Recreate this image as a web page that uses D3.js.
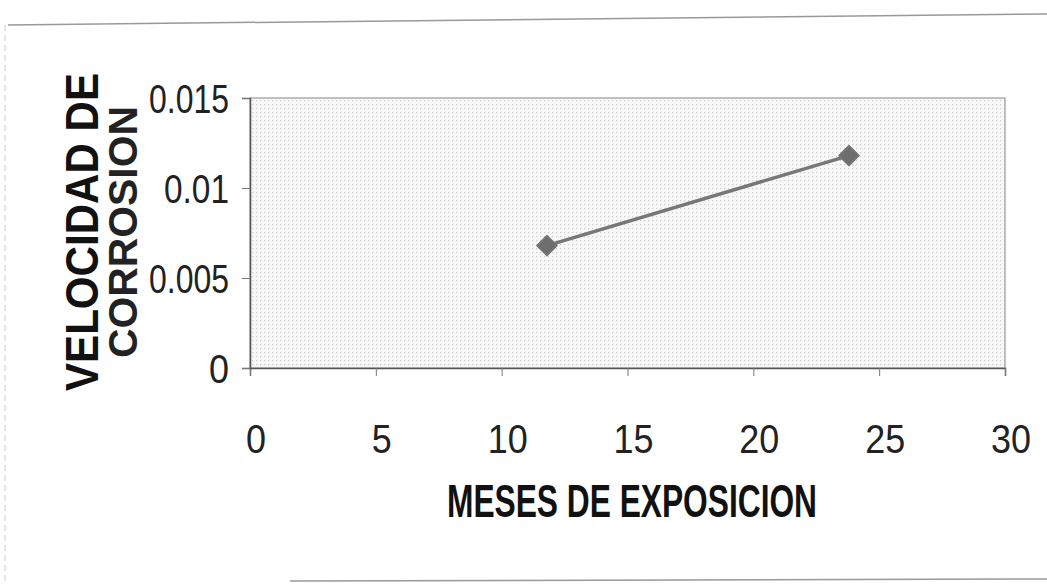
<!DOCTYPE html>
<html><head><meta charset="utf-8">
<script src="https://cdn.jsdelivr.net/npm/d3@7"></script>
<style>body{margin:0;background:#fff}svg{display:block}</style>
</head><body>
<svg id="c" width="1047" height="584"></svg>
<script>
const meses = [11.8, 23.8];
const velocidad = [0.0068, 0.0118];
const xTicks = [0, 5, 10, 15, 20, 25, 30];
const yTicks = [0, 0.005, 0.01, 0.015];
const yTickLabels = ["0", "0.005", "0.01", "0.015"];
const xTitle = "MESES DE  EXPOSICION";
const yTitle1 = "VELOCIDAD DE";
const yTitle2 = "CORROSION";

const svg = d3.select("#c");
const L = 250, R = 1005, T = 98, B = 368;
const x = d3.scaleLinear().domain([0, 30]).range([L, R]);
const y = d3.scaleLinear().domain([0, 0.015]).range([B, T]);

// frame
svg.append("line").attr("x1", 8).attr("y1", 25).attr("x2", 1047).attr("y2", 14)
  .attr("stroke", "#999").attr("stroke-width", 1.5);
svg.append("line").attr("x1", 5).attr("y1", 25).attr("x2", 5).attr("y2", 584)
  .attr("stroke", "#ccc").attr("stroke-width", 1).attr("stroke-dasharray", "6,4");
svg.append("line").attr("x1", 290).attr("y1", 581).attr("x2", 1047).attr("y2", 579)
  .attr("stroke", "#999").attr("stroke-width", 1.5);

// pattern
const defs = svg.append("defs");
const pat = defs.append("pattern").attr("id", "dots").attr("width", 4).attr("height", 4)
  .attr("patternUnits", "userSpaceOnUse");
pat.append("rect").attr("width", 4).attr("height", 4).attr("fill", "#f7f7f7");
pat.append("rect").attr("width", 1.2).attr("height", 1.2).attr("fill", "#cdcdcd");

svg.append("rect").attr("x", L).attr("y", T).attr("width", R - L).attr("height", B - T)
  .attr("fill", "url(#dots)").attr("stroke", "#888").attr("stroke-width", 1);

// axes
const xAxis = svg.append("g").attr("transform", `translate(0,${B})`)
  .call(d3.axisBottom(x).tickValues(xTicks).tickSize(8).tickFormat(""));
const yAxis = svg.append("g").attr("transform", `translate(${L},0)`)
  .call(d3.axisLeft(y).tickValues(yTicks).tickSize(8).tickFormat(""));
[xAxis, yAxis].forEach(g => {
  g.select(".domain").attr("stroke", "#555").attr("stroke-width", 1.5);
  g.selectAll(".tick line").attr("stroke", "#777").attr("stroke-width", 1);
});

const font = "Liberation Sans, Arial, sans-serif";
// x tick labels
svg.append("g").selectAll("text").data(xTicks).join("text")
  .attr("x", d => x(d) + 6).attr("y", 453)
  .attr("text-anchor", "middle")
  .attr("font-family", font).attr("font-size", 40).attr("fill", "#222")
  .attr("textLength", d => String(d).length * 20).attr("lengthAdjust", "spacingAndGlyphs")
  .text(d => d);

// y tick labels
svg.append("g").selectAll("text").data(yTicks).join("text")
  .attr("x", 229).attr("y", d => y(d) + 15)
  .attr("text-anchor", "end")
  .attr("font-family", font).attr("font-size", 40).attr("fill", "#222")
  .attr("textLength", (d, i) => ({1: 20, 5: 80, 4: 65})[yTickLabels[i].length])
  .attr("lengthAdjust", "spacingAndGlyphs")
  .text((d, i) => yTickLabels[i]);

// titles
svg.append("text").attr("x", 447).attr("y", 517)
  .attr("font-family", font).attr("font-weight", "bold").attr("font-size", 46).attr("fill", "#111")
  .attr("textLength", 370).attr("lengthAdjust", "spacingAndGlyphs")
  .text(xTitle);

svg.append("text").attr("transform", "translate(98,391) rotate(-90)")
  .attr("font-family", font).attr("font-weight", "bold").attr("font-size", 46).attr("fill", "#111")
  .attr("textLength", 318).attr("lengthAdjust", "spacingAndGlyphs")
  .text(yTitle1);
svg.append("text").attr("transform", "translate(137,358) rotate(-90)")
  .attr("font-family", font).attr("font-weight", "bold").attr("font-size", 40).attr("fill", "#222")
  .attr("textLength", 252).attr("lengthAdjust", "spacingAndGlyphs")
  .text(yTitle2);

// series
const pts = meses.map((m, i) => [m, velocidad[i]]);
svg.append("path").datum(pts)
  .attr("d", d3.line().x(d => x(d[0])).y(d => y(d[1])))
  .attr("fill", "none").attr("stroke", "#777").attr("stroke-width", 3.5);
svg.append("g").selectAll("path").data(pts).join("path")
  .attr("transform", d => `translate(${x(d[0])},${y(d[1])}) rotate(45)`)
  .attr("d", d3.symbol().type(d3.symbolSquare).size(200))
  .attr("fill", "#6e6e6e").attr("stroke", "#777").attr("stroke-width", 1.5)
  .attr("stroke-linejoin", "round");
</script>
</body></html>
